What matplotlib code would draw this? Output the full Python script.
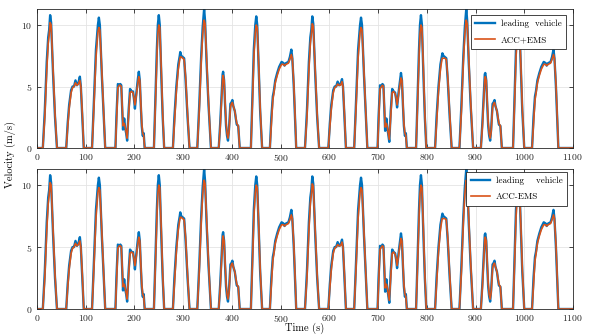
import matplotlib
matplotlib.use("Agg")
import matplotlib.pyplot as plt

# velocity data (time in s, speed in m/s)
time_s = [
    0, 12, 16, 20, 23, 25, 27, 29, 33, 37, 41,
    60, 63, 66, 70, 73, 76, 79, 82, 85, 88, 90, 93, 96,
    113, 117, 121, 125, 127, 129, 133, 137, 140,
    161, 163, 166, 169, 171, 173, 175, 176.5, 179, 181, 183, 185, 188, 191, 194, 197, 199, 201, 204, 207, 209, 211, 213, 215, 217, 219, 221,
    240, 243, 246, 248, 250, 252, 255, 258, 261,
    279, 282, 286, 290, 293, 294, 296, 299, 302, 305, 309, 313,
    329, 333, 337, 340, 342, 343, 345, 348, 352, 357,
    373, 376, 379, 381, 382, 384, 386, 388, 390, 392, 394, 396, 397, 399, 401, 403, 406, 408, 410, 413, 416,
    439, 442, 445, 448, 450, 452, 455, 458, 462,
    478, 481, 484, 486, 489, 493, 497, 502, 506, 508, 511, 516, 519, 522, 524, 527, 530, 532,
    550, 554, 558, 561, 563, 565, 567, 571, 575, 579,
    598, 601, 604, 608, 611, 614, 617, 620, 623, 626, 628, 631, 634,
    651, 655, 659, 663, 665, 667, 671, 675, 678,
    699, 701, 704, 707, 709, 711, 713, 714.5, 717, 719, 721, 723, 726, 729, 732, 735, 737, 739, 742, 745, 747, 749, 751, 753, 755, 757, 759,
    778, 781, 784, 786, 788, 790, 793, 796, 799,
    817, 820, 824, 828, 831, 832, 834, 837, 840, 843, 847, 851,
    867, 871, 875, 878, 880, 881, 883, 886, 890, 895,
    911, 914, 917, 919, 920, 922, 924, 926, 928, 930, 932, 934, 935, 937, 939, 941, 944, 946, 948, 951, 954,
    977, 980, 983, 986, 988, 990, 993, 996, 1000,
    1016, 1019, 1022, 1024, 1027, 1031, 1035, 1040, 1044, 1046, 1049, 1054, 1057, 1060, 1062, 1065, 1068, 1070, 1100,
]

leading_v = [
    0, 0, 3, 7, 9, 9.6, 10.8, 10.2, 6, 2.5, 0,
    0, 2, 3.5, 4.7, 5.0, 5.0, 5.5, 5.1, 5.3, 5.8, 5.0, 2.5, 0,
    0, 4, 8, 10.0, 10.6, 10.0, 6, 2.5, 0,
    0, 2.5, 5.2, 5.1, 5.2, 5.1, 3, 1.5, 2.4, 1.6, 1.2, 0.6, 3, 4.8, 4.6, 4.6, 4.0, 3.2, 4.5, 5.6, 6.2, 5.5, 3.5, 1.8, 1.0, 1.2, 0,
    0, 4, 8, 10, 10.8, 10.0, 6, 2.5, 0,
    0, 2.5, 5, 6.8, 7.5, 7.8, 7.5, 7.4, 7.3, 5.5, 2.5, 0,
    0, 3.5, 7.5, 9.8, 10.8, 11.3, 10.3, 7, 3.5, 0,
    0, 2, 4.5, 6.0, 6.2, 5.5, 3.5, 1.8, 1.0, 0.6, 1.5, 3.0, 3.6, 3.7, 3.9, 3.4, 3.0, 2.4, 1.9, 1.8, 0,
    0, 4, 8, 10, 10.7, 10.0, 6.5, 3, 0,
    0, 2.5, 4.2, 4.6, 5.5, 6.1, 6.6, 7.0, 6.9, 6.7, 6.9, 7.0, 7.4, 8.0, 7.3, 5, 2, 0,
    0, 3, 7, 9, 9.6, 10.7, 10.1, 6, 2.5, 0,
    0, 2, 3.5, 4.7, 5.0, 5.0, 5.4, 5.1, 5.2, 5.6, 5.0, 2.5, 0,
    0, 4, 8, 10, 10.6, 10, 6, 2.5, 0,
    0, 2.5, 5.1, 5.0, 5.2, 5.1, 3, 1.4, 2.4, 1.6, 1.1, 0.5, 3, 4.8, 4.6, 4.5, 4.0, 3.3, 4.5, 5.5, 6.1, 5.5, 3.5, 1.8, 1.0, 1.2, 0,
    0, 4, 8, 10, 10.8, 10, 6, 2.5, 0,
    0, 2.5, 5, 6.8, 7.5, 7.7, 7.5, 7.4, 7.3, 5.5, 2.5, 0,
    0, 3.5, 7.5, 9.8, 10.8, 11.3, 10.3, 7, 3.5, 0,
    0, 2, 4.5, 6.0, 6.1, 5.5, 3.5, 1.8, 1.0, 0.6, 1.5, 3.0, 3.6, 3.7, 3.9, 3.4, 3.0, 2.4, 1.9, 1.8, 0,
    0, 4, 8, 10, 10.7, 10, 6.5, 3, 0,
    0, 2.5, 4.2, 4.6, 5.5, 6.1, 6.6, 7.0, 6.9, 6.7, 6.9, 7.0, 7.4, 8.0, 7.3, 5, 2, 0, 0,
]

follower_v = [
    0, 0, 2.5, 6.3, 8.5, 9.2, 10.2, 10.0, 6.3, 2.8, 0,
    0, 1.7, 3.2, 4.5, 4.9, 5.0, 5.3, 5.1, 5.2, 5.5, 5.0, 2.8, 0,
    0, 3.5, 7.3, 9.4, 9.8, 9.6, 6.3, 2.8, 0,
    0, 2.0, 4.9, 5.1, 5.1, 5.0, 3.3, 1.8, 2.0, 1.7, 1.3, 0.8, 2.6, 4.5, 4.6, 4.5, 4.1, 3.5, 4.3, 5.3, 5.8, 5.5, 3.8, 2.0, 1.2, 1.0, 0,
    0, 3.5, 7.3, 9.3, 10.0, 9.8, 6.5, 2.8, 0,
    0, 2.0, 4.6, 6.4, 7.2, 7.4, 7.4, 7.3, 7.2, 5.8, 2.8, 0,
    0, 3.0, 7.0, 9.2, 10.1, 10.4, 10.1, 7.4, 3.8, 0,
    0, 1.7, 4.1, 5.6, 5.9, 5.5, 3.8, 2.1, 1.2, 0.8, 1.3, 2.7, 3.3, 3.6, 3.7, 3.4, 3.0, 2.5, 2.0, 1.8, 0,
    0, 3.5, 7.3, 9.4, 10.0, 9.8, 6.8, 3.3, 0,
    0, 2.0, 3.9, 4.4, 5.3, 5.9, 6.4, 6.8, 6.8, 6.7, 6.8, 6.9, 7.2, 7.6, 7.3, 5.3, 2.3, 0,
    0, 2.5, 6.3, 8.5, 9.2, 10.1, 9.9, 6.3, 2.8, 0,
    0, 1.7, 3.2, 4.5, 4.9, 5.0, 5.2, 5.1, 5.1, 5.4, 5.0, 2.8, 0,
    0, 3.5, 7.3, 9.4, 9.8, 9.6, 6.3, 2.8, 0,
    0, 2.0, 4.8, 5.0, 5.1, 5.0, 3.3, 1.7, 2.0, 1.7, 1.2, 0.7, 2.6, 4.5, 4.6, 4.4, 4.1, 3.5, 4.3, 5.2, 5.7, 5.5, 3.8, 2.0, 1.2, 1.0, 0,
    0, 3.5, 7.3, 9.3, 10.0, 9.8, 6.5, 2.8, 0,
    0, 2.0, 4.6, 6.4, 7.2, 7.3, 7.3, 7.3, 7.2, 5.8, 2.8, 0,
    0, 3.0, 7.0, 9.2, 10.1, 10.4, 10.1, 7.4, 3.8, 0,
    0, 1.7, 4.1, 5.6, 5.8, 5.5, 3.8, 2.1, 1.2, 0.8, 1.3, 2.7, 3.3, 3.6, 3.7, 3.4, 3.0, 2.5, 2.0, 1.8, 0,
    0, 3.5, 7.3, 9.4, 10.0, 9.8, 6.8, 3.3, 0,
    0, 2.0, 3.9, 4.4, 5.3, 5.9, 6.4, 6.8, 6.8, 6.7, 6.8, 6.9, 7.2, 7.6, 7.3, 5.3, 2.3, 0, 0,
]

panel_labels = ["ACC+EMS", "ACC-EMS"]
lead_labels = ["leading  vehicle", "leading    vehicle"]
x_ticks = list(range(0, 1101, 100))
y_ticks = [0, 5, 10]

assert len(time_s) == len(leading_v) == len(follower_v)

plt.rcParams['font.family'] = 'serif'
plt.rcParams['font.serif'] = ['cmr10', 'DejaVu Serif']
plt.rcParams['axes.formatter.use_mathtext'] = True
plt.rcParams['font.size'] = 7

BLUE = '#0072BD'
ORANGE = '#D95319'

fig = plt.figure(figsize=(5.89, 3.35), dpi=100)
ax_top = fig.add_axes([0.0628, 0.5582, 0.910, 0.4149])
ax_bot = fig.add_axes([0.0628, 0.0776, 0.910, 0.4179])

legend_anchor = [(0.987, 0.957), (0.989, 0.979)]

for ax, lab, lead_lab, anchor in zip([ax_top, ax_bot], panel_labels, lead_labels, legend_anchor):
    ax.plot(time_s, leading_v, color=BLUE, lw=1.7, label=lead_lab)
    ax.plot(time_s, follower_v, color=ORANGE, lw=1.2, label=lab)
    ax.set_xlim(0, 1100)
    ax.set_ylim(0, 11.3)
    ax.set_xticks(x_ticks)
    ax.set_yticks(y_ticks)
    ax.grid(True, color='#e4e4e4', lw=0.6)
    ax.set_axisbelow(True)
    ax.tick_params(direction='in', top=True, right=True, length=3, width=0.6,
                   colors='#262626', labelsize=7, pad=3)
    for s in ax.spines.values():
        s.set_color('#262626')
        s.set_linewidth(0.6)
    leg = ax.legend(loc='upper right', bbox_to_anchor=anchor, borderaxespad=0,
                    fontsize=6.5, fancybox=False, framealpha=1, edgecolor='#262626',
                    handlelength=2.2, handletextpad=0.6, labelspacing=0.9,
                    borderpad=0.5)
    leg.get_frame().set_linewidth(0.6)

fig.text(10 / 589, 1 - 155 / 335, 'Velocity (m/s)', rotation=90, ha='center', va='center', fontsize=7.5)
fig.text(305 / 589, 0.004, 'Time (s)', ha='center', va='bottom', fontsize=7.5)

fig.savefig('out.png', dpi=100)
